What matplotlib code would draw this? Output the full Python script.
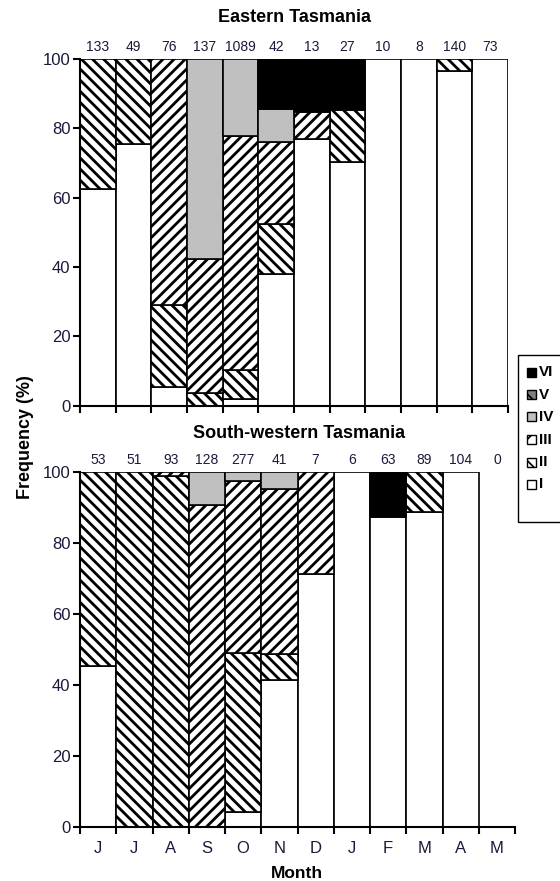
import matplotlib
matplotlib.use("Agg")
import matplotlib.pyplot as plt
import matplotlib.patches as mpatches
import numpy as np

plt.rcParams['font.family'] = ['Liberation Sans', 'DejaVu Sans']
plt.rcParams['hatch.linewidth'] = 2.0

months = ['J', 'J', 'A', 'S', 'O', 'N', 'D', 'J', 'F', 'M', 'A', 'M']
stage_labels = ['I', 'II', 'III', 'IV', 'V', 'VI']

east_n = [133, 49, 76, 137, 1089, 42, 13, 27, 10, 8, 140, 73]
east_I = [62.4, 75.5, 5.3, 0, 1.9, 38.1, 76.9, 70.4, 100, 100, 96.4, 100]
east_II = [37.6, 24.5, 23.7, 3.6, 8.4, 14.3, 0, 14.8, 0, 0, 3.6, 0]
east_III = [0, 0, 71.0, 38.7, 67.6, 23.8, 7.7, 0, 0, 0, 0, 0]
east_IV = [0, 0, 0, 57.7, 22.1, 9.5, 0, 0, 0, 0, 0, 0]
east_V = [0, 0, 0, 0, 0, 0, 0, 0, 0, 0, 0, 0]
east_VI = [0, 0, 0, 0, 0, 14.3, 15.4, 14.8, 0, 0, 0, 0]

sw_n = [53, 51, 93, 128, 277, 41, 7, 6, 63, 89, 104, 0]
sw_I = [45.3, 0, 0, 0, 4.3, 41.5, 71.4, 100, 87.3, 88.8, 100, 0]
sw_II = [54.7, 100, 98.9, 0, 44.8, 7.3, 0, 0, 0, 11.2, 0, 0]
sw_III = [0, 0, 1.1, 90.6, 48.4, 46.3, 28.6, 0, 0, 0, 0, 0]
sw_IV = [0, 0, 0, 9.4, 2.5, 4.9, 0, 0, 0, 0, 0, 0]
sw_V = [0, 0, 0, 0, 0, 0, 0, 0, 0, 0, 0, 0]
sw_VI = [0, 0, 0, 0, 0, 0, 0, 0, 12.7, 0, 0, 0]

styles = {
    'I': dict(facecolor='white', hatch=None),
    'II': dict(facecolor='white', hatch='\\\\\\'),
    'III': dict(facecolor='white', hatch='///'),
    'IV': dict(facecolor='#c0c0c0', hatch=None),
    'V': dict(facecolor='#808080', hatch='\\\\\\'),
    'VI': dict(facecolor='black', hatch=None),
}

W, H = 560, 881
fig = plt.figure(figsize=(W / 100, H / 100), dpi=100)


def make_axes(left, right, top, bottom):
    return fig.add_axes([left / W, 1 - bottom / H, (right - left) / W, (bottom - top) / H])


ax1 = make_axes(80, 508, 59, 405.7)
ax2 = make_axes(80, 515, 472, 827)

dark = '#1a1a3a'


def draw_panel(ax, series, counts, show_months):
    x = np.arange(len(months))
    bottom = np.zeros(len(months))
    for lab, vals in zip(stage_labels, series):
        vals = np.array(vals, dtype=float)
        for i in range(len(months)):
            if vals[i] > 0:
                ax.bar(x[i], vals[i], width=1.0, bottom=bottom[i],
                       facecolor=styles[lab]['facecolor'], hatch=styles[lab]['hatch'],
                       edgecolor='black', linewidth=1.2, zorder=2)
        bottom += vals
    ax.set_xlim(-0.5, len(months) - 0.5)
    ax.set_ylim(0, 100)
    ax.spines['top'].set_visible(False)
    ax.spines['right'].set_visible(False)
    for s in ('left', 'bottom'):
        ax.spines[s].set_linewidth(1.5)
        ax.spines[s].set_zorder(3)
    ax.set_yticks([0, 20, 40, 60, 80, 100])
    ax.tick_params(axis='y', direction='out', length=5, width=1.5, labelsize=12,
                   labelcolor=dark, pad=2)
    ax.set_xticks(np.arange(-0.5, len(months), 1.0))
    ax.set_xticklabels([])
    ax.tick_params(axis='x', direction='out', length=5, width=1.5)
    if show_months:
        ax.set_xticks(x, minor=True)
        ax.set_xticklabels(months, minor=True)
        ax.tick_params(axis='x', which='minor', length=0, labelsize=12,
                       labelcolor=dark, pad=10)
    for i, n in enumerate(counts):
        ax.text(x[i], 101.5, str(n), ha='center', va='bottom', fontsize=10, color=dark)


draw_panel(ax1, [east_I, east_II, east_III, east_IV, east_V, east_VI], east_n, False)
draw_panel(ax2, [sw_I, sw_II, sw_III, sw_IV, sw_V, sw_VI], sw_n, True)

fig.text(294 / W, 1 - 18 / H, 'Eastern Tasmania', ha='center', va='center',
         fontsize=13, fontweight='bold')
fig.text(299 / W, 1 - 433 / H, 'South-western Tasmania', ha='center', va='center',
         fontsize=13, fontweight='bold')
fig.text(25 / W, 1 - 437 / H, 'Frequency (%)', rotation=90, ha='center', va='center',
         fontsize=13, fontweight='bold')
fig.text(297 / W, 1 - 873 / H, 'Month', ha='center', va='center',
         fontsize=12.5, fontweight='bold')

# legend box
fig.patches.append(mpatches.Rectangle((518 / W, 1 - 522 / H), 60 / W, 167 / H,
                                      transform=fig.transFigure, facecolor='white',
                                      edgecolor='black', linewidth=1.0, zorder=5))
plt.rcParams['hatch.linewidth'] = 1.2
legend_hatch = {'II': '\\\\', 'III': '//', 'V': '\\\\'}
for k, lab in enumerate(reversed(stage_labels)):
    yc = 372 + k * 22.5
    fig.patches.append(mpatches.Rectangle((527 / W, 1 - (yc + 4.5) / H), 9 / W, 9 / H,
                                          transform=fig.transFigure,
                                          facecolor=styles[lab]['facecolor'],
                                          hatch=legend_hatch.get(lab),
                                          edgecolor='black', linewidth=1.0, zorder=6))
    fig.text(539 / W, 1 - yc / H, lab, ha='left', va='center',
             fontsize=11, fontweight='bold', zorder=7)

fig.savefig('out.png', dpi=100)
